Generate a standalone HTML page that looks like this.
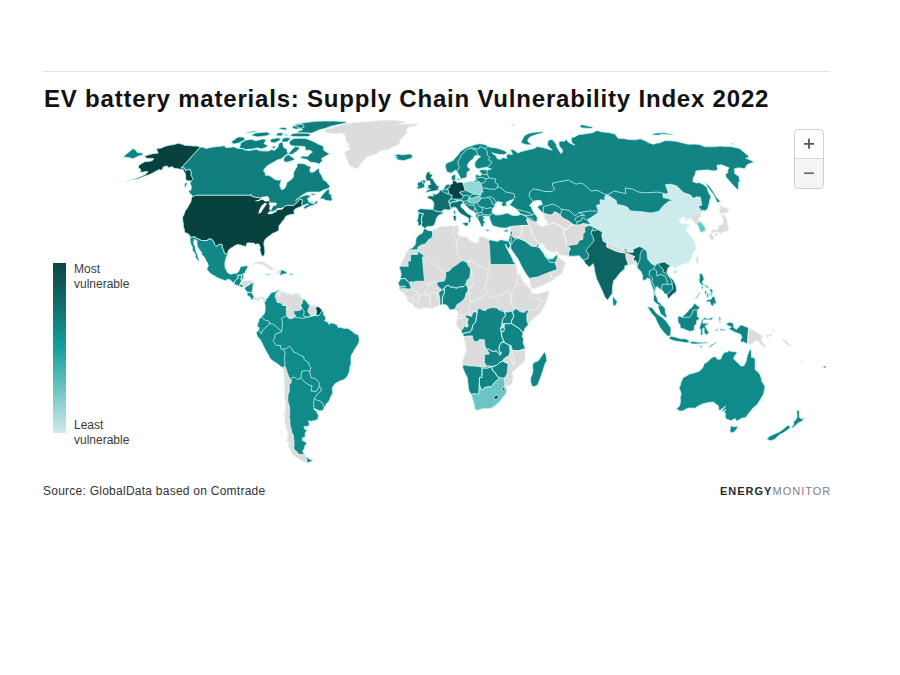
<!DOCTYPE html>
<html><head><meta charset="utf-8">
<style>
html,body{margin:0;padding:0;background:#fff;width:900px;height:675px;overflow:hidden}
body{position:relative;font-family:"Liberation Sans",sans-serif}
.rule{position:absolute;left:43px;top:71px;width:787px;height:1px;background:#e2e2e2}
.title{position:absolute;left:44px;top:85px;font-size:24px;font-weight:bold;color:#121212;letter-spacing:0.8px;white-space:nowrap}
.map{position:absolute;left:0;top:0}
.legbar{position:absolute;left:53px;top:263px;width:13px;height:170px;background:linear-gradient(#0a4542 0%,#117573 28%,#14a09f 50%,#6cc3c3 74%,#d0ebeb 100%)}
.leg{position:absolute;left:74px;font-size:12px;line-height:15px;color:#3a3a3a}
.src{position:absolute;left:43px;top:484px;font-size:12px;color:#333;letter-spacing:0.25px}
.logo{position:absolute;left:720px;top:485px;font-size:11px;font-weight:bold;color:#2a2a2a;letter-spacing:1.0px}
.logo span{color:#808080;font-weight:normal}
.zoom{position:absolute;left:794px;top:129px;width:30px;height:60px;border:1px solid #d0d0d0;border-radius:4px;background:#fff;box-sizing:border-box}
.zoom .sep{position:absolute;left:0;top:28px;width:100%;height:1px;background:#d8d8d8}
.zoom .bot{position:absolute;left:0;top:29px;width:100%;height:29px;background:#f5f5f5;border-radius:0 0 4px 4px}
</style></head><body>
<div class="rule"></div>
<div class="title">EV battery materials: Supply Chain Vulnerability Index 2022</div>
<svg class="map" width="900" height="675" viewBox="0 0 900 675">
<path fill="#138484" stroke="#c8fbfb" stroke-width="0.75" stroke-linejoin="round" d="M424.7 228.4L423.2 227.1L421.0 225.3L417.9 225.8L418.2 221.9L416.8 221.2L418.1 217.6L418.5 213.2L417.6 210.4L420.2 208.7L424.6 208.9L428.7 209.2L432.7 209.4L433.7 206.6L433.9 202.8L432.0 200.1L427.5 198.1L427.1 196.6L430.4 195.8L433.2 196.3L432.6 193.6L434.4 194.3L436.7 194.1L439.2 192.3L439.4 190.6L441.1 190.1L442.8 189.4L444.0 188.1L445.3 185.7L446.8 184.5L449.6 184.2L451.5 184.2L452.8 183.3L452.5 180.6L451.7 179.4L451.3 176.3L454.6 174.4L455.7 175.3L455.5 177.7L456.6 177.2L454.7 180.6L456.9 182.0L457.1 183.0L459.9 182.0L462.4 182.5L463.2 183.3L466.5 182.3L471.1 181.1L473.3 182.0L473.9 180.8L476.1 180.1L475.5 178.2L475.3 175.8L476.9 174.4L479.9 175.8L481.1 175.1L481.1 172.7L479.3 171.3L479.2 170.3L482.7 169.6L487.3 169.9L491.3 168.9L488.8 168.2L486.9 167.3L483.3 167.8L478.1 168.9L475.1 167.1L474.7 164.1L475.3 161.8L479.0 157.4L480.7 156.8L478.2 155.4L475.3 155.4L473.8 157.2L473.2 159.0L470.7 160.6L468.3 162.9L467.4 165.7L467.9 167.5L470.2 168.7L470.0 170.3L467.1 172.2L466.9 175.8L466.0 177.9L463.4 178.2L460.7 179.6L460.1 177.2L458.3 174.1L456.8 171.3L455.4 169.9L454.6 171.0L451.0 173.2L447.3 172.2L446.3 170.3L445.3 166.4L445.6 164.1L448.7 162.2L453.1 160.6L454.7 158.4L457.9 155.0L460.2 151.7L463.4 149.5L466.5 147.3L470.5 146.2L475.2 144.5L478.9 143.8L482.6 144.1L486.1 145.1L488.1 146.6L491.7 147.5L496.0 147.9L500.5 149.2L504.2 150.5L506.8 152.3L506.0 153.9L503.7 154.8L500.1 154.5L496.5 153.9L492.9 153.2L491.8 152.5L494.1 154.5L496.9 156.8L496.9 158.4L499.5 159.3L502.1 158.8L500.9 157.4L503.5 157.7L507.2 158.4L506.2 156.5L506.7 155.0L508.9 153.9L512.3 154.8L512.0 152.8L510.2 149.9L513.2 149.5L515.4 151.0L517.8 153.0L521.5 151.4L527.0 150.1L529.3 149.5L534.0 148.6L537.4 146.6L543.7 147.7L549.6 149.5L552.4 150.1L549.4 147.3L547.5 145.1L547.9 140.9L550.3 139.4L553.2 140.2L556.1 144.1L557.0 147.3L561.0 153.6L562.6 151.7L561.9 148.8L559.2 146.2L558.8 143.0L559.5 141.3L565.0 140.9L566.1 138.8L568.1 141.9L571.8 144.1L574.9 145.1L571.6 142.4L571.1 137.8L575.2 136.7L578.5 134.7L585.6 133.7L592.5 132.7L597.1 130.4L601.0 131.7L605.5 132.3L609.7 132.7L615.0 134.1L618.0 138.2L623.2 138.6L629.0 139.6L635.6 139.8L640.3 138.8L645.6 140.9L649.3 143.0L653.8 144.3L656.1 143.2L659.8 142.8L663.7 141.1L665.5 140.5L670.6 140.7L676.2 141.3L683.0 143.0L688.5 144.3L694.1 144.1L699.5 144.5L704.5 146.6L708.9 146.8L716.2 146.6L720.4 146.0L723.5 146.4L730.4 146.6L735.7 147.5L739.6 148.6L748.5 155.9L748.5 158.1L745.6 157.9L751.4 160.6L754.6 162.2L751.3 162.9L747.6 164.5L746.0 166.4L744.8 168.7L738.4 167.8L734.1 168.9L734.8 171.0L734.6 173.4L739.7 177.0L738.9 178.2L740.0 180.6L738.6 182.3L738.5 185.7L738.7 190.4L734.5 186.7L730.1 181.8L725.9 177.0L725.5 173.9L727.8 172.9L727.7 169.9L729.0 167.8L723.7 165.7L721.9 164.8L717.0 165.2L717.7 169.9L714.2 171.0L707.7 169.9L701.7 170.3L695.9 171.0L695.4 173.9L693.5 177.5L692.8 181.6L696.6 183.0L699.1 182.5L703.4 184.5L707.1 187.4L708.2 191.6L710.9 196.6L709.8 200.3L708.7 205.4L707.6 208.9L705.1 211.0L702.1 210.2L700.6 212.2L700.4 216.1L698.9 218.1L697.5 219.4L700.3 221.7L704.1 225.8L705.7 229.7L704.4 231.2L701.6 232.2L700.1 232.0L699.1 228.4L698.5 225.8L696.5 224.0L694.0 223.2L693.7 220.7L690.7 218.4L687.0 218.9L685.3 220.7L685.6 217.1L683.6 215.8L680.6 218.4L677.9 220.2L679.2 222.5L681.7 224.5L685.3 223.7L689.5 225.0L687.1 226.8L686.2 228.9L685.1 231.0L687.6 232.8L690.6 237.1L694.1 241.5L693.6 243.3L695.2 244.4L695.4 248.5L692.6 252.4L691.4 258.0L688.1 262.2L683.4 263.7L682.0 264.0L678.9 265.0L675.8 266.6L675.3 268.9L673.9 265.8L670.4 265.8L667.8 268.4L666.8 272.2L668.9 276.1L673.2 279.9L675.9 285.6L676.6 290.2L675.4 292.8L672.6 294.3L671.2 296.1L668.1 299.0L667.5 296.6L666.7 294.3L664.4 293.8L662.8 290.7L659.5 288.7L658.1 287.7L657.1 286.4L655.9 287.7L655.0 294.1L656.8 297.2L658.2 301.8L660.3 303.3L662.1 305.1L665.2 308.7L665.3 312.0L667.2 317.4L665.6 317.7L660.7 313.8L658.5 308.2L657.9 304.3L656.3 303.6L653.5 300.5L653.6 296.6L653.3 290.2L650.9 283.8L649.8 278.7L647.3 277.9L645.2 280.5L642.7 279.9L642.6 275.3L640.9 271.5L637.9 268.4L635.7 265.8L634.2 262.9L632.3 264.5L629.1 265.0L624.9 265.8L624.7 268.9L621.4 271.5L618.5 274.8L616.1 278.4L613.7 280.5L612.5 286.4L612.2 294.1L611.2 294.8L608.9 298.2L607.5 300.2L604.6 296.6L602.0 290.2L598.6 283.0L596.6 278.7L594.9 272.2L594.0 266.6L593.2 263.7L589.3 267.1L585.6 263.7L583.4 260.1L580.5 257.3L579.2 255.7L574.9 256.2L568.7 256.2L561.9 255.2L559.2 254.4L556.7 251.3L553.0 252.6L546.2 249.3L543.0 243.9L539.2 243.9L538.4 246.4L539.4 247.7L542.2 251.6L543.9 253.7L545.6 257.5L546.1 253.9L547.5 258.8L552.7 258.8L555.5 255.5L557.0 253.7L557.6 257.0L559.0 258.0L562.7 260.4L565.6 263.2L563.4 268.4L562.2 272.5L559.6 274.8L556.5 276.6L550.6 281.0L542.8 285.1L535.2 288.2L531.5 288.4L530.2 283.8L529.9 278.9L525.7 273.5L521.3 265.8L518.2 259.3L514.6 254.2L511.0 249.0L510.4 245.1L508.5 240.5L509.7 236.6L510.5 232.2L510.9 228.6L510.8 226.1L506.9 227.9L503.8 228.1L499.6 227.6L496.4 226.8L492.8 225.8L490.8 221.9L490.0 219.4L489.3 216.6L485.2 216.1L482.8 216.8L484.8 218.4L483.0 219.9L485.7 222.7L483.7 223.5L483.6 227.1L481.2 226.3L480.2 223.7L479.5 221.9L477.7 219.1L475.9 217.1L475.8 213.5L473.7 211.7L470.5 209.9L467.4 207.4L465.2 204.9L463.3 203.6L460.8 204.4L461.3 207.4L463.8 209.2L466.7 213.0L469.0 214.3L474.1 217.6L471.0 216.8L470.1 219.4L471.0 220.9L468.7 223.5L468.4 218.1L465.9 216.6L461.7 214.3L458.5 211.7L456.8 208.2L453.9 206.9L451.4 208.4L448.4 210.2L445.4 209.4L442.5 210.2L442.8 212.0L442.8 213.5L438.3 215.5L436.3 218.6L435.7 221.2L434.6 224.3L432.2 226.3L427.2 226.6L424.7 228.4Z"/>
<path fill="#ffffff" stroke="#c8fbfb" stroke-width="0.75" stroke-linejoin="round" d="M491.9 211.7L492.6 209.2L493.8 207.1L495.5 204.9L497.1 201.6L499.3 201.8L502.8 202.8L501.0 204.4L503.5 206.6L507.2 205.4L509.0 204.6L512.3 206.6L516.1 208.9L520.7 214.0L517.7 215.5L512.6 215.5L507.2 213.0L500.3 214.8L495.3 215.0L493.1 214.3L491.9 211.7ZM506.0 204.1L507.0 204.4L510.0 204.6L512.1 201.6L513.6 199.8L510.4 200.3L506.1 202.3L506.0 204.1ZM533.3 201.3L537.0 200.3L541.1 200.8L542.3 204.6L538.7 205.4L538.3 206.6L537.0 207.1L540.0 209.9L543.0 213.0L543.9 215.5L544.6 218.1L547.0 220.9L547.9 224.8L542.0 226.6L537.5 224.5L536.9 221.9L537.4 217.6L534.6 213.5L532.5 210.4L531.3 206.6L529.6 205.9L530.8 203.9L533.3 201.3Z"/>
<path fill="#dcdcdc" stroke="#f6f6f6" stroke-width="0.75" stroke-linejoin="round" d="M424.0 228.9L425.3 228.6L428.0 230.4L431.7 230.7L433.8 229.1L436.3 228.6L439.4 227.1L442.5 226.3L446.7 226.3L449.7 225.5L452.4 226.1L454.1 226.1L456.6 225.0L458.0 226.1L459.3 225.8L458.1 227.6L459.2 229.4L458.8 231.2L457.4 232.8L458.1 234.3L459.6 235.3L461.5 236.4L464.7 236.6L468.3 237.9L469.0 240.0L472.2 241.3L475.5 242.8L477.8 242.6L478.8 240.8L478.5 238.7L479.6 237.1L482.1 236.4L484.7 237.1L487.9 238.7L489.5 239.7L494.4 240.8L497.6 241.5L499.6 240.2L501.7 239.7L504.5 240.5L507.1 241.0L508.5 240.5L510.4 245.1L509.3 249.5L506.5 246.4L505.5 244.1L506.1 246.9L508.1 250.8L510.3 254.7L512.8 259.3L514.2 263.2L517.0 267.1L517.6 272.2L520.3 275.3L522.4 280.2L524.0 282.5L526.7 284.6L529.3 287.9L531.6 290.5L531.0 291.5L533.0 293.0L535.5 293.8L538.8 293.3L542.0 292.3L545.3 291.8L549.0 290.7L548.9 294.1L548.4 296.6L546.8 300.5L544.7 305.6L542.6 309.5L539.3 314.3L536.0 316.4L533.1 318.7L529.4 323.1L527.1 325.9L525.1 328.2L524.0 332.3L522.3 336.4L523.6 338.9L523.1 342.8L524.5 346.6L525.5 349.2L525.4 357.4L523.9 362.1L519.3 365.9L515.8 369.3L512.4 372.4L513.0 376.2L512.9 381.4L511.7 384.0L507.0 386.5L506.1 389.1L506.1 393.0L504.8 395.1L502.5 397.6L500.1 401.2L496.3 404.6L493.4 406.9L490.1 408.5L486.5 408.7L483.4 408.5L480.2 409.5L478.0 410.5L475.6 409.5L474.8 408.7L474.7 406.7L474.2 404.6L472.9 400.2L471.4 394.5L469.0 390.9L468.3 386.5L467.6 380.1L467.3 377.5L465.2 373.6L463.5 369.8L462.1 365.4L462.1 362.1L463.3 357.9L464.9 353.8L466.5 351.3L465.6 347.9L465.0 344.1L463.7 336.6L463.3 335.9L462.4 333.3L460.7 330.7L457.8 327.4L456.2 324.3L456.9 321.0L457.3 318.4L458.0 314.6L457.8 311.5L456.2 310.7L455.1 309.2L452.9 309.5L450.0 310.0L448.0 306.9L446.3 304.8L443.8 304.6L440.3 305.1L438.5 305.9L435.2 307.4L431.9 308.7L429.0 307.9L426.3 307.7L423.0 308.2L419.7 309.7L416.4 308.2L413.1 304.8L410.9 303.3L408.7 301.8L406.9 299.2L406.5 296.6L404.1 294.1L403.0 292.8L400.4 290.7L399.3 288.9L399.4 286.4L398.6 283.8L397.9 283.3L399.3 281.5L400.2 279.2L400.9 276.1L401.2 273.5L400.4 270.9L399.4 267.3L399.9 265.8L401.3 262.4L402.9 259.3L404.5 256.8L405.4 253.7L408.3 249.8L409.6 249.0L411.8 248.2L414.6 245.7L415.8 242.6L415.6 240.0L416.7 237.4L418.5 235.3L420.6 234.0L422.1 233.3L423.2 231.0L424.0 228.9Z"/>
<path fill="#118a8a" stroke="#c8fbfb" stroke-width="0.75" stroke-linejoin="round" d="M265.4 298.7L266.7 299.0L268.2 296.9L269.9 294.3L271.5 292.8L272.9 292.0L274.9 292.0L277.4 290.5L279.5 289.2L279.3 290.7L277.9 292.0L278.5 293.0L279.3 295.4L278.1 296.6L279.4 297.4L278.7 293.3L281.7 291.8L282.3 289.7L282.4 291.5L285.4 293.0L286.4 294.1L290.2 293.8L293.0 295.1L294.8 293.8L297.4 293.8L299.9 293.6L298.5 295.1L301.9 297.9L303.8 299.2L305.7 300.7L307.0 302.5L308.3 304.1L309.8 305.6L312.6 305.9L314.9 305.6L316.8 306.4L319.2 307.2L322.1 310.2L323.1 311.8L324.0 315.4L325.5 316.6L325.7 319.5L324.4 320.5L328.8 322.8L328.9 324.6L331.1 322.8L334.4 323.6L336.8 324.8L338.4 327.7L340.4 327.2L344.4 328.4L347.7 328.2L351.1 330.5L354.4 333.3L358.4 335.1L359.4 339.2L358.8 342.8L357.3 345.6L354.8 349.2L353.1 352.5L351.5 354.6L350.8 359.0L351.2 363.3L349.9 367.2L349.5 371.3L347.8 375.4L345.6 378.5L343.0 380.1L340.0 380.9L338.2 382.1L336.1 382.9L333.3 385.8L332.3 388.3L332.7 393.5L330.9 396.3L329.8 399.4L328.6 401.8L326.4 403.8L324.4 407.7L323.6 409.5L321.8 410.8L319.1 410.8L316.5 409.5L314.2 408.2L314.0 409.5L317.1 411.8L317.0 413.4L318.7 414.7L317.7 419.3L315.0 420.6L310.7 421.3L308.3 420.8L309.3 423.4L309.3 425.4L306.5 426.7L303.8 426.5L304.9 429.3L307.9 430.8L306.2 431.3L305.1 433.1L305.4 436.6L302.4 438.1L302.4 440.4L304.8 441.7L306.9 442.9L304.8 445.9L304.5 448.7L302.8 450.6L303.3 453.1L305.4 454.8L303.5 455.6L305.3 455.8L306.6 457.3L309.4 459.0L313.2 460.7L311.2 461.4L308.8 462.4L304.8 461.9L301.5 460.4L297.6 457.8L293.8 456.1L292.2 452.9L289.9 449.2L288.4 445.4L289.6 442.9L286.7 440.7L287.8 438.6L287.9 434.1L289.0 432.6L286.0 429.0L286.5 426.5L284.9 422.6L284.8 418.8L284.6 416.2L285.0 412.3L285.6 408.5L285.9 405.9L285.6 402.0L284.4 398.1L284.4 394.3L284.7 391.2L284.9 386.5L284.4 381.6L284.3 376.2L283.5 371.1L283.0 368.0L280.4 366.2L277.8 364.1L274.3 361.8L271.5 360.0L269.5 357.4L268.7 355.6L266.6 352.0L264.4 347.9L261.8 342.5L259.9 339.2L257.4 336.4L256.6 334.3L256.3 332.5L258.5 329.7L259.5 327.7L258.4 327.2L257.1 326.6L257.7 323.6L258.8 321.0L259.1 318.9L261.3 317.4L261.7 316.6L264.0 314.3L264.9 311.3L265.2 308.2L264.9 304.3L264.1 302.5L265.7 300.7L265.4 298.7Z"/>
<path fill="#117e7e" stroke="#c8fbfb" stroke-width="0.75" stroke-linejoin="round" d="M200.3 147.0L203.4 147.3L206.3 148.6L209.9 147.5L212.8 147.1L217.6 146.4L221.1 146.2L224.2 145.6L225.8 147.5L229.2 147.5L233.9 146.8L237.7 148.4L242.5 148.6L244.2 149.7L248.6 150.5L252.5 149.9L256.4 149.2L258.8 150.5L263.1 151.0L268.7 151.0L271.4 149.5L273.5 150.1L274.6 150.5L277.9 147.3L278.9 143.4L281.5 142.1L283.1 143.4L283.1 145.8L284.2 147.9L286.2 148.8L287.4 149.7L287.1 152.1L288.9 153.4L292.2 149.5L295.1 146.6L298.5 147.1L299.7 147.9L297.9 150.5L292.3 154.3L288.9 154.3L287.4 153.9L284.1 156.5L281.0 159.0L278.0 159.7L274.0 162.0L271.3 163.4L267.4 165.7L264.5 168.7L263.5 171.0L265.3 172.9L265.5 175.3L268.7 175.3L271.6 177.0L273.6 178.7L276.7 180.1L281.4 180.1L279.7 185.5L280.7 187.2L281.2 189.6L284.0 188.9L285.7 186.7L286.9 182.5L290.8 179.9L293.5 177.0L293.6 174.6L293.7 172.0L295.3 169.6L296.9 166.8L297.3 163.4L301.7 163.4L305.0 164.1L307.8 165.9L311.2 166.4L309.7 169.9L310.6 172.2L312.4 172.2L314.6 171.5L318.6 168.0L319.4 169.9L319.6 172.7L321.5 175.3L322.6 177.5L323.6 180.1L326.1 181.3L327.7 183.5L329.8 185.5L329.6 187.4L327.0 189.1L323.5 189.9L320.0 192.1L315.2 192.1L311.3 192.1L307.4 192.3L302.7 194.8L298.8 197.8L295.6 200.6L300.0 197.3L303.4 195.8L306.6 194.8L310.7 195.6L309.0 197.8L307.4 198.6L308.3 200.3L308.9 201.8L311.2 203.1L314.0 203.6L316.8 200.3L317.6 202.6L315.9 203.9L312.6 205.4L309.3 206.4L306.9 207.9L304.2 209.2L303.7 207.1L306.6 205.1L308.8 204.4L307.2 203.9L304.7 204.9L302.5 205.6L301.5 203.6L302.5 200.1L300.0 199.2L296.6 203.1L294.6 204.6L293.6 205.4L287.2 205.4L285.9 205.6L283.6 207.4L281.7 208.9L277.0 209.3L276.8 210.4L272.1 211.5L268.0 213.0L269.7 211.5L271.3 208.9L271.9 204.6L270.5 202.8L269.8 201.6L268.7 200.6L263.0 197.1L260.3 197.8L256.7 197.6L251.2 196.1L250.8 194.3L250.4 195.3L196.1 195.3L194.7 196.8L192.6 196.3L191.1 194.6L189.1 192.3L188.2 190.9L190.6 190.4L191.5 187.4L190.8 185.0L189.8 183.0L191.3 181.3L188.8 180.8L188.8 180.8L193.1 178.4L191.7 176.7L190.9 175.3L191.2 172.5L190.1 169.2L185.3 170.6L184.5 168.0L181.1 168.0ZM319.3 164.1L315.4 162.7L310.3 162.2L307.1 159.5L303.0 158.8L300.1 158.4L302.1 156.1L307.7 156.3L309.8 153.9L312.4 152.1L310.0 150.1L305.5 150.5L305.0 146.8L300.4 146.2L295.4 146.2L290.8 145.6L289.5 143.6L289.7 140.9L293.7 138.6L299.6 138.2L305.9 138.4L310.4 140.2L314.4 141.9L318.1 144.1L322.4 145.6L323.8 147.7L323.5 150.1L327.5 152.8L329.9 153.6L326.2 155.9L323.9 157.2L321.5 158.6L322.5 160.6L319.3 164.1ZM240.8 142.8L245.5 140.2L251.3 139.2L255.7 140.7L262.8 139.0L266.4 139.8L263.9 143.6L267.1 144.9L267.2 147.1L261.8 148.8L257.3 147.9L253.2 149.0L245.2 149.5L241.9 148.4L239.0 147.7L240.4 145.1L240.8 142.8ZM230.7 142.1L235.5 138.8L238.2 136.9L243.6 137.1L245.1 139.8L238.9 143.0L233.9 144.1L230.7 142.1ZM311.8 133.1L304.8 133.1L296.3 132.9L298.5 131.1L302.7 129.8L297.6 127.0L293.0 125.5L297.0 123.9L305.1 122.6L315.4 121.3L324.3 121.0L335.7 121.1L346.6 121.8L346.4 122.9L336.7 125.0L330.4 126.4L325.0 128.6L319.6 129.8L315.1 131.7L311.8 133.1ZM303.8 127.5L296.3 129.2L292.5 128.3L292.4 126.1L300.3 124.3L303.8 125.2L303.8 127.5ZM308.7 136.5L297.4 136.7L289.9 136.1L292.5 133.7L298.8 132.7L307.9 133.1L310.7 134.7L308.7 136.5ZM250.9 135.3L255.6 132.9L266.6 132.1L270.6 133.7L267.2 135.7L257.3 136.9L250.9 135.3ZM270.2 141.9L274.3 143.0L279.1 140.9L281.2 138.2L276.5 138.0L270.7 139.2L270.2 141.9ZM287.4 141.9L281.6 141.9L282.3 138.8L285.6 137.6L290.9 138.0L287.4 141.9ZM282.1 135.9L275.9 135.7L277.5 132.9L283.2 132.7L282.1 135.9ZM257.6 131.7L248.4 133.1L244.5 133.1L253.8 130.9L257.6 131.7ZM285.4 130.2L277.9 128.5L282.8 127.3L287.2 128.3L285.4 130.2ZM287.8 135.7L283.5 135.1L286.9 133.9L287.8 135.7ZM283.5 159.5L284.2 161.8L287.2 162.2L292.4 160.6L294.9 159.9L294.0 158.6L291.8 156.8L289.9 155.7L288.2 154.5L285.0 156.5L283.5 159.5ZM288.7 162.7L291.3 162.9L291.7 162.0L288.7 162.7ZM273.9 148.4L271.2 147.3L273.8 146.0L276.3 147.3L273.9 148.4ZM319.6 198.8L323.1 198.8L326.0 200.6L329.5 200.8L330.4 201.3L332.5 199.1L331.2 197.1L331.9 194.8L329.3 193.8L329.4 188.9L327.0 189.9L324.9 192.1L322.1 195.3L319.6 198.8ZM311.0 193.1L315.5 194.3L315.9 195.1L311.4 195.1L311.0 193.1ZM308.8 201.3L313.5 201.8L312.2 202.8L309.4 202.1L308.8 201.3ZM187.3 182.8L184.7 183.0L184.4 187.4L185.9 186.7L187.3 182.8Z"/>
<path fill="#08423f" stroke="#c8fbfb" stroke-width="0.75" stroke-linejoin="round" d="M192.0 196.8L196.1 195.3L250.4 195.3L250.8 194.3L251.2 196.1L256.7 197.6L260.3 197.8L263.0 197.1L268.7 200.6L269.8 201.6L270.5 202.8L271.9 204.6L271.3 208.9L269.7 211.5L268.0 213.0L272.1 211.5L276.8 210.4L277.0 209.3L281.7 208.9L283.6 207.4L285.9 205.6L287.2 205.4L293.6 205.4L294.6 204.6L296.6 203.1L300.0 199.2L302.5 200.1L301.5 203.6L302.5 205.6L300.2 206.9L296.8 208.2L295.2 208.9L293.6 211.2L294.5 213.2L294.3 214.0L291.1 214.5L288.9 215.0L285.9 216.3L285.3 217.3L284.3 219.4L282.5 220.9L281.7 222.5L280.1 224.5L279.0 225.8L278.9 227.9L279.0 230.2L276.6 231.7L273.8 233.0L271.9 233.8L270.1 235.6L267.1 237.4L265.3 239.2L264.0 242.0L263.9 244.9L264.6 247.7L264.9 251.9L264.4 254.7L263.5 256.2L262.0 256.2L261.1 254.2L260.4 252.1L259.8 249.5L260.4 247.5L259.8 246.2L258.9 244.1L257.5 243.9L255.2 244.6L254.1 243.1L250.9 243.1L249.0 242.8L246.8 243.3L246.4 245.1L246.6 246.2L244.7 246.2L242.5 245.7L240.3 244.9L237.2 244.6L234.8 245.7L232.7 247.2L230.3 248.5L228.7 250.0L227.8 252.1L227.8 254.3L225.7 253.9L224.0 252.9L223.7 250.3L222.5 248.2L221.9 244.6L220.5 244.4L218.8 244.4L217.0 246.4L215.5 245.7L214.5 244.6L214.0 242.3L211.7 239.2L208.1 239.2L207.7 240.5L201.6 240.5L194.8 237.4L195.1 236.9L189.9 237.4L190.0 235.8L188.5 234.0L187.4 233.5L184.3 232.2L184.5 229.9L183.5 227.1L183.2 225.3L183.6 223.7L183.0 222.7L182.7 219.4L182.5 217.1L183.6 215.5L184.5 213.0L185.1 211.0L187.4 207.9L189.5 204.1L190.6 202.3L191.2 200.3L191.5 198.1L192.0 196.8ZM200.3 147.0L197.2 146.0L193.3 146.0L189.3 145.6L184.5 145.3L182.4 144.3L178.4 143.3L173.9 144.5L170.2 145.1L165.2 146.2L161.0 148.1L156.3 148.6L157.1 150.3L157.4 152.1L158.4 153.0L153.4 153.6L150.3 154.3L144.7 155.9L145.6 157.7L147.5 158.4L151.0 158.4L153.3 158.6L153.2 159.9L150.8 161.1L147.7 161.5L144.6 161.8L141.5 163.6L138.5 165.7L138.5 167.1L138.5 168.0L140.3 168.9L140.8 170.3L139.5 172.0L142.7 172.2L146.1 171.5L148.1 171.8L145.2 174.6L141.3 176.3L136.5 178.2L132.9 179.1L128.6 180.8L125.1 182.0L128.6 180.6L133.4 179.6L137.8 178.9L142.0 177.2L146.0 175.8L150.0 174.4L153.3 172.7L155.8 171.3L159.5 169.4L160.0 170.3L162.4 169.6L163.2 167.1L166.6 165.9L167.8 166.6L168.0 168.0L171.2 166.8L172.8 167.1L174.3 168.5L177.7 168.7L180.8 169.4L182.8 169.2L183.8 171.3L185.1 172.9L185.7 175.3L185.6 178.2L186.2 180.6L188.8 180.8L191.3 181.3L193.1 178.4L191.7 176.7L190.9 175.3L191.2 172.5L190.1 169.2L185.3 170.6L184.5 168.0L181.1 168.0Z"/>
<path fill="#dcdcdc" stroke="#f6f6f6" stroke-width="0.75" stroke-linejoin="round" d="M357.3 169.2L354.1 167.5L349.9 166.4L348.2 162.9L347.0 159.5L345.8 156.8L344.2 153.9L346.1 151.0L350.1 149.5L350.0 147.3L345.4 146.2L350.2 144.5L346.7 143.0L345.9 140.9L345.6 137.8L344.7 134.7L340.7 133.3L332.6 133.7L326.9 132.7L324.3 130.7L324.6 129.2L331.6 127.9L338.1 126.1L344.9 123.9L354.9 122.3L364.0 121.8L373.1 121.0L382.2 120.2L393.7 120.0L401.9 121.0L405.7 122.6L399.4 123.9L411.2 123.9L418.6 123.8L415.3 126.1L409.2 127.0L406.3 129.8L407.4 132.7L404.6 135.3L402.6 137.8L399.8 140.2L400.1 143.0L398.1 145.1L393.7 146.6L388.1 149.7L381.9 150.5L376.0 154.3L370.4 155.9L366.6 157.2L364.6 159.5L361.6 162.9L359.2 166.4L357.3 169.2Z"/>
<path fill="#138484" stroke="#c8fbfb" stroke-width="0.75" stroke-linejoin="round" d="M393.8 156.1L396.6 154.5L398.4 154.1L401.8 154.8L405.2 154.5L408.8 153.9L411.3 154.3L412.8 156.8L410.9 158.4L409.1 159.0L403.3 160.8L399.3 159.9L396.3 159.9L397.8 158.4L394.4 157.4L397.2 156.5L393.8 156.1Z"/>
<path fill="#138888" stroke="#c8fbfb" stroke-width="0.75" stroke-linejoin="round" d="M189.9 237.4L195.1 236.9L194.8 237.4L201.6 240.5L207.7 240.5L208.1 239.2L211.7 239.2L214.0 242.3L214.5 244.6L215.5 245.7L217.0 246.4L218.8 244.4L220.5 244.4L221.9 244.6L222.5 248.2L223.7 250.3L224.0 252.9L225.7 253.9L227.8 254.3L226.4 256.8L225.7 259.3L224.8 263.2L225.0 265.8L225.2 268.1L226.4 270.2L227.0 271.7L228.2 273.0L230.2 274.3L232.4 273.8L235.3 273.3L236.8 273.3L238.9 271.2L239.9 268.4L240.4 266.8L243.3 266.0L246.0 265.8L248.1 266.0L247.3 268.4L246.0 270.2L245.2 272.5L244.4 273.5L243.8 273.5L241.7 275.1L237.7 275.3L237.5 276.7L238.7 277.6L236.2 279.7L234.2 282.0L234.0 283.7L231.5 281.0L229.5 279.4L227.9 279.4L224.9 280.7L221.8 279.4L217.9 277.9L214.6 276.1L211.6 274.3L209.1 272.0L207.3 270.2L206.9 268.6L208.3 265.8L207.7 263.2L206.5 261.4L204.8 258.0L203.5 256.2L201.6 254.4L201.9 252.4L199.9 250.8L199.2 249.3L197.5 246.7L196.9 243.6L197.1 240.8L195.6 240.0L194.2 239.2L193.8 241.8L193.9 244.4L195.3 246.9L195.5 249.5L196.4 252.6L197.4 254.7L198.1 257.5L198.9 258.8L198.9 261.7L198.1 261.4L196.8 258.6L195.1 257.5L195.5 254.7L194.0 252.1L192.3 250.3L192.7 248.8L192.1 246.4L190.8 244.1L190.2 241.8L190.1 239.5L189.9 237.4ZM234.0 283.7L234.2 282.0L236.2 279.7L238.7 277.6L237.5 276.7L237.7 275.3L241.7 275.1L241.0 280.2L242.2 280.7L243.1 280.5L240.8 282.3L240.3 284.1L238.6 285.9L236.0 285.3L234.0 283.7ZM241.7 275.1L243.8 273.5L243.7 276.1L243.1 278.9L241.6 280.2L241.0 280.2L241.7 275.1ZM238.6 285.9L240.3 284.1L242.1 284.6L243.5 285.3L243.3 287.1L241.1 287.1L238.6 285.9ZM244.1 287.9L245.6 286.9L247.9 285.3L249.7 284.6L251.2 283.0L253.9 282.5L253.0 285.1L252.6 288.9L251.9 292.8L250.6 292.5L247.7 292.3L245.9 290.5L244.1 287.9ZM247.7 292.3L250.6 292.5L251.9 292.8L253.3 295.4L254.1 296.4L253.2 299.7L251.7 299.5L249.4 296.4L247.3 295.6L247.0 293.0L247.7 292.3ZM265.6 273.8L269.8 274.5L268.7 275.3L266.1 274.8L265.6 273.8ZM279.8 274.8L280.4 275.8L282.5 274.3L285.8 273.8L287.4 273.3L286.1 271.7L284.2 270.7L282.3 269.9L280.3 270.4Z"/>
<path fill="#0e6363" stroke="#c8fbfb" stroke-width="0.75" stroke-linejoin="round" d="M289.8 273.5L293.2 273.8L292.9 274.8L289.7 274.8L289.8 273.5Z"/>
<path fill="#dcdcdc" stroke="#f6f6f6" stroke-width="0.75" stroke-linejoin="round" d="M240.8 282.3L243.1 280.5L245.8 280.5L249.1 280.2L251.7 280.5L253.9 282.5L251.2 283.0L249.7 284.6L247.9 285.3L245.6 286.9L244.1 287.9L243.3 287.1L243.5 285.3L242.1 284.6L240.3 284.1L240.8 282.3ZM254.1 296.4L256.4 298.2L259.8 297.2L262.0 296.6L265.4 298.7L265.7 300.7L264.1 302.5L263.1 300.0L260.8 298.2L258.7 300.0L258.6 302.3L256.3 300.5L253.2 299.7L254.1 296.4ZM252.4 264.8L254.0 262.9L257.0 261.9L260.3 261.4L263.4 261.9L266.4 263.7L269.0 265.5L271.4 266.8L275.0 269.1L271.9 269.9L267.5 269.9L268.6 268.1L266.6 267.1L264.0 265.5L260.9 264.2L257.8 263.7L254.4 264.8L252.4 264.8ZM274.1 273.8L277.1 274.3L279.8 274.8L280.3 270.4L278.0 269.9L276.6 270.7L278.0 272.0L277.8 273.3L274.1 273.3Z"/>
<path fill="#dcdcdc" stroke="#f6f6f6" stroke-width="0.75" stroke-linejoin="round" d="M279.3 290.7L277.9 292.0L278.5 293.0L279.3 295.4L278.1 296.6L279.4 297.4L278.7 293.3L281.7 291.8L282.3 289.7L282.4 291.5L285.4 293.0L286.4 294.1L290.2 293.8L293.0 295.1L294.8 293.8L297.4 293.8L299.9 293.6L298.5 295.1L301.9 297.9L303.8 299.2L302.2 301.5L302.5 303.3L301.0 304.3L300.9 305.9L302.2 308.4L300.2 310.0L297.3 310.7L294.8 310.7L293.5 311.3L294.1 314.6L295.9 315.4L294.5 317.2L291.4 318.7L288.1 317.9L287.2 315.4L286.1 313.8L286.8 311.5L286.2 309.5L287.0 305.4L282.8 305.4L281.3 303.1L277.2 302.3L276.4 299.5L275.6 297.7L275.3 296.1L275.6 294.3L276.8 292.5L279.3 290.7ZM309.8 305.6L312.6 305.9L314.9 305.6L316.8 306.4L315.7 308.4L316.7 311.8L315.8 315.4L312.5 315.9L311.1 316.1L308.1 312.0L307.9 310.2L309.8 305.6ZM283.0 368.0L284.5 365.9L285.5 367.2L286.4 369.8L287.1 372.4L288.4 375.7L289.3 377.8L291.0 379.6L291.2 382.7L289.1 384.2L289.3 389.1L289.1 392.0L288.0 394.3L287.8 398.1L287.9 402.0L289.3 405.9L289.6 409.8L289.8 413.6L289.2 416.2L290.0 420.1L289.8 422.6L290.1 425.9L291.1 429.0L291.9 432.8L293.4 435.4L293.4 437.9L293.9 440.4L293.9 442.9L294.1 445.4L293.6 447.9L295.0 450.4L296.8 451.6L298.2 454.1L301.3 454.6L303.2 454.6L305.1 455.1L305.6 456.5L307.2 461.2L304.8 461.9L301.5 460.4L297.6 457.8L293.8 456.1L292.2 452.9L289.9 449.2L288.4 445.4L289.6 442.9L286.7 440.7L287.8 438.6L287.9 434.1L289.0 432.6L286.0 429.0L286.5 426.5L284.9 422.6L284.8 418.8L284.6 416.2L285.0 412.3L285.6 408.5L285.9 405.9L285.6 402.0L284.4 398.1L284.4 394.3L284.7 391.2L284.9 386.5L284.4 381.6L284.3 376.2L283.5 371.1L283.0 368.0Z"/>
<path fill="#138484" stroke="#c8fbfb" stroke-width="0.75" stroke-linejoin="round" d="M303.8 299.2L305.7 300.7L307.0 302.5L308.3 304.1L309.8 305.6L307.9 310.2L308.1 312.0L311.1 316.1L307.8 317.2L304.0 316.4L303.6 314.6L304.3 311.8L303.0 309.5L302.2 308.4L300.9 305.9L301.0 304.3L302.5 303.3L302.2 301.5L303.8 299.2Z"/>
<path fill="#08423f" stroke="#c8fbfb" stroke-width="0.75" stroke-linejoin="round" d="M316.8 306.4L319.2 307.2L322.1 310.2L320.5 312.8L319.1 315.4L316.5 315.6L315.8 315.4L316.7 311.8L315.7 308.4L316.8 306.4Z"/>
<path fill="#dcdcdc" stroke="#f6f6f6" stroke-width="0.75" stroke-linejoin="round" d="M456.9 318.4L461.3 318.4L461.3 315.1L465.5 315.1L465.8 317.9L468.4 318.7L467.3 322.3L468.2 325.9L467.1 327.4L464.2 325.9L462.9 328.7L460.9 331.0L457.8 327.4L456.2 324.3L456.9 321.0L456.9 318.4ZM511.1 345.6L512.5 350.5L512.1 354.9L513.8 356.9L514.7 360.8L513.9 364.6L512.0 363.3L511.5 360.3L509.0 356.7L508.8 355.6L510.0 351.8L509.5 346.6L508.7 344.8L511.1 345.6ZM500.5 328.2L501.9 324.6L503.9 323.8L504.5 325.4L503.9 327.2L502.5 327.9L500.5 328.2Z"/>
<path fill="#138484" stroke="#c8fbfb" stroke-width="0.75" stroke-linejoin="round" d="M424.0 228.9L425.3 228.6L428.0 230.4L431.7 230.7L432.5 232.2L432.7 235.3L431.7 237.9L428.5 239.7L425.3 243.9L421.4 244.9L417.8 247.2L417.7 249.8L408.3 249.8L409.6 249.0L411.8 248.2L414.6 245.7L415.8 242.6L415.6 240.0L416.7 237.4L418.5 235.3L420.6 234.0L422.1 233.3L423.2 231.0L424.0 228.9ZM399.3 267.3L399.8 266.2L408.3 266.2L407.9 262.5L408.5 261.2L410.5 261.0L410.6 254.4L417.7 254.5L417.8 250.6L425.7 256.8L422.4 256.9L423.3 268.0L424.3 279.1L424.7 279.4L424.2 281.2L415.4 281.3L412.8 282.5L411.3 281.0L409.5 283.0L406.7 279.9L404.6 278.4L400.9 278.7L400.2 279.2L400.9 276.1L401.2 273.5L400.4 270.9L399.3 267.3ZM400.2 279.2L400.9 278.7L404.6 278.4L406.7 279.9L409.5 283.0L411.2 287.7L409.5 289.2L406.2 288.7L402.9 288.4L399.3 288.9L399.4 286.4L398.6 283.8L397.9 283.3L399.3 281.5L400.2 279.2ZM436.7 282.8L439.1 281.7L444.2 281.0L445.7 277.6L445.7 271.7L448.9 271.2L452.6 267.3L456.9 264.5L462.2 260.6L466.5 261.9L468.8 266.6L470.0 267.8L470.8 268.6L470.1 274.8L469.7 277.6L466.7 280.7L465.9 284.1L463.1 286.9L460.2 286.6L456.1 288.2L453.4 286.9L451.2 287.4L448.2 285.3L445.3 286.4L444.2 288.7L442.5 289.7L440.9 290.5L440.7 288.4L438.5 286.9L437.2 285.1L436.7 282.8ZM442.3 304.8L443.8 304.6L446.3 304.8L448.0 306.9L450.0 310.0L452.9 309.5L455.1 309.2L455.8 306.9L457.3 304.3L459.7 303.1L462.6 300.5L463.9 299.2L465.4 296.4L466.0 293.3L467.8 291.3L468.2 287.9L467.5 287.4L465.9 284.1L463.1 286.9L460.2 286.6L456.1 288.2L453.4 286.9L451.2 287.4L448.2 285.3L445.3 286.4L444.2 288.7L444.5 292.8L442.9 295.9L442.3 299.2L442.3 304.8ZM439.8 305.1L442.3 304.8L442.3 299.2L442.9 295.9L444.5 292.8L444.2 288.7L442.5 289.7L440.9 290.5L438.5 292.8L439.8 297.9L439.8 305.1ZM490.4 264.5L489.4 245.1L488.6 241.8L489.5 239.7L494.4 240.8L497.6 241.5L499.6 240.2L501.7 239.7L504.5 240.5L507.1 241.0L508.5 240.5L510.4 245.1L509.3 249.5L506.5 246.4L505.5 244.1L506.1 246.9L508.1 250.8L510.3 254.7L512.8 259.3L513.2 261.7L516.2 264.5L504.1 264.5L490.4 264.5ZM460.9 331.0L462.9 328.7L464.2 325.9L467.1 327.4L468.2 325.9L467.3 322.3L468.4 318.7L465.8 317.9L465.5 315.1L468.4 315.4L471.7 316.4L472.8 312.0L477.3 312.0L475.5 322.5L472.9 324.8L471.7 330.0L469.9 332.0L467.3 332.5L464.9 333.0L462.9 333.8L460.9 331.0ZM463.3 335.9L463.7 336.6L465.5 336.4L472.4 336.1L473.0 339.5L475.0 341.8L478.3 341.3L479.2 339.5L484.5 339.7L484.8 345.9L485.4 349.2L489.0 349.0L490.3 350.2L493.5 351.5L496.2 350.7L497.9 352.3L500.0 355.4L501.4 352.3L500.1 352.8L499.1 349.7L499.4 345.6L501.7 342.0L504.3 342.3L501.6 336.4L501.4 332.5L500.5 328.2L501.9 324.6L502.3 321.5L502.5 319.5L504.5 316.9L505.6 315.4L504.5 312.0L502.5 309.7L499.2 310.0L496.9 307.9L494.7 307.7L492.3 307.4L490.3 307.9L487.0 308.7L485.7 310.7L482.6 310.0L479.5 308.2L477.3 310.0L477.3 312.0L475.5 322.5L472.9 324.8L471.7 330.0L469.9 332.0L467.3 332.5L464.9 333.0L462.9 333.8L463.3 335.9ZM502.3 321.5L501.9 324.6L503.9 323.8L506.8 323.6L511.4 323.6L511.6 320.5L513.0 317.9L513.8 316.1L512.5 311.8L510.5 311.3L507.6 312.0L504.5 312.0L505.6 315.4L504.5 316.9L502.5 319.5L502.3 321.5ZM511.4 323.6L519.8 328.9L523.1 333.0L525.1 328.2L527.1 325.9L528.5 325.1L527.1 321.0L527.1 313.8L529.1 310.7L526.6 310.2L524.4 312.3L520.4 311.8L517.8 309.7L515.5 308.7L513.8 310.2L512.5 311.8L513.8 316.1L513.0 317.9L511.6 320.5L511.4 323.6ZM500.5 328.2L502.5 327.9L503.9 327.2L504.5 329.7L502.7 332.0L501.4 332.5L500.5 328.2ZM504.5 325.4L503.9 323.8L506.8 323.6L511.4 323.6L519.8 328.9L523.1 333.0L522.3 336.4L523.6 338.9L523.1 342.8L524.5 346.6L525.5 348.7L521.1 350.0L518.9 350.7L515.1 350.5L512.5 350.5L511.1 345.6L508.7 344.8L504.8 343.0L504.3 342.3L501.8 336.4L501.4 332.5L502.7 332.0L504.5 329.7L503.9 327.2L504.5 325.4ZM484.8 345.9L485.4 349.2L489.0 349.0L490.3 350.2L493.5 351.5L496.2 350.7L497.9 352.3L500.0 355.4L501.4 352.3L500.1 352.8L499.1 349.7L499.4 345.6L501.7 342.0L504.3 342.3L504.8 343.0L508.7 344.8L509.5 346.6L510.0 351.8L508.8 355.6L504.3 358.2L502.5 361.0L499.3 362.8L496.6 365.4L491.5 366.7L489.2 365.9L487.0 366.2L484.4 362.6L484.7 354.3L489.1 354.3L488.9 352.3L484.8 347.9ZM491.5 366.7L496.6 365.4L499.3 362.8L502.5 361.0L504.2 361.8L508.2 363.9L507.5 369.8L507.1 373.6L505.7 376.2L503.8 378.3L499.9 377.8L497.0 376.2L495.0 372.4L492.9 371.1L491.5 366.7ZM462.1 365.4L465.8 364.6L467.3 365.7L476.7 366.2L482.1 367.2L487.0 366.2L489.2 365.9L491.5 366.7L487.6 368.0L482.1 368.0L481.8 377.5L479.6 377.5L479.3 384.7L478.9 394.0L476.8 394.3L474.2 393.8L471.4 394.5L469.0 390.9L468.3 386.5L467.6 380.1L467.3 377.5L465.2 373.6L463.5 369.8L462.1 365.4ZM479.6 377.5L481.8 377.5L482.1 368.0L487.6 368.0L491.5 366.7L492.9 371.1L495.0 372.4L497.0 376.2L499.9 377.8L495.6 381.4L493.3 384.2L491.0 387.0L487.8 386.8L484.6 387.8L482.3 389.9L480.9 389.1L479.3 384.7L479.6 377.5ZM544.8 351.8L546.1 355.6L546.9 360.8L545.2 363.3L544.4 365.9L542.9 371.1L541.0 376.2L539.6 380.1L537.6 385.0L534.0 386.8L531.9 385.8L530.6 381.4L530.7 377.5L532.5 373.6L533.0 369.8L532.4 365.9L533.5 362.6L535.9 361.8L538.2 360.8L540.1 358.2L541.7 355.9L543.6 353.1L544.8 351.8ZM399.4 286.6L403.4 285.9L406.0 286.6L403.3 286.9L399.6 287.4L399.4 286.6Z"/>
<path fill="#6ac5c5" stroke="#c8fbfb" stroke-width="0.75" stroke-linejoin="round" d="M471.4 394.5L474.2 393.8L476.8 394.3L478.9 394.0L479.3 384.7L480.9 389.1L482.3 389.9L484.6 387.8L487.8 386.8L491.0 387.0L493.3 384.2L495.6 381.4L499.9 377.8L503.8 378.3L505.0 383.7L505.0 387.6L506.7 390.1L506.1 393.0L504.8 395.1L502.5 397.6L500.1 401.2L496.3 404.6L493.4 406.9L490.1 408.5L486.5 408.7L483.4 408.5L480.2 409.5L478.0 410.5L475.6 409.5L474.8 408.7L474.7 406.7L474.2 404.6L472.9 400.2L471.4 394.5Z"/>
<path fill="#0e6363" stroke="#c8fbfb" stroke-width="0.75" stroke-linejoin="round" d="M493.6 397.1L495.9 395.1L498.0 395.3L498.7 397.1L496.7 399.4L494.5 399.7L493.6 397.1ZM502.8 387.3L504.9 387.8L505.0 389.9L503.2 391.2L502.3 389.4L502.8 387.3Z"/>
<path fill="#138484" stroke="#c8fbfb" stroke-width="0.75" stroke-linejoin="round" d="M424.8 187.4L424.5 184.7L424.9 183.0L422.5 182.8L422.6 180.6L422.6 179.9L420.3 181.8L417.4 182.5L417.5 185.0L418.1 186.4L416.5 188.1L418.0 189.1L420.9 188.4L424.8 187.4ZM485.2 229.4L491.1 230.2L487.4 231.2L485.3 230.2L485.2 229.4ZM503.6 230.7L508.3 229.1L507.3 232.0L504.2 231.7L503.6 230.7ZM456.9 178.4L459.8 178.2L459.4 180.1L457.3 180.1L456.9 178.4ZM454.7 179.4L456.5 179.1L456.0 180.6L454.7 179.9L454.7 179.4ZM469.8 174.6L470.9 173.6L470.4 175.8L469.8 174.6ZM521.0 143.0L522.6 138.8L524.4 135.7L528.8 133.3L536.0 132.1L542.7 131.7L542.8 133.1L535.8 134.7L530.5 136.7L528.2 138.8L527.7 141.3L531.7 144.9L526.6 144.7L521.0 143.0ZM579.6 127.0L581.6 124.6L593.3 127.2L591.1 128.6L582.0 127.9L579.6 127.0ZM651.1 134.7L658.1 135.3L662.2 134.1L671.4 135.1L674.0 134.7L664.4 132.7L655.5 133.1L651.1 134.7ZM511.0 125.7L515.3 125.3L513.5 124.8L511.0 125.7ZM731.3 144.1L732.3 143.0L734.0 144.3L731.3 144.1ZM717.6 202.8L720.5 201.6L716.0 196.6L712.6 190.4L707.6 184.2L705.2 182.3L707.4 186.7L713.0 194.1L717.6 202.8ZM133.0 148.6L135.6 149.9L137.5 152.5L143.0 153.0L143.0 154.8L138.3 156.3L132.9 158.8L129.0 157.7L123.0 156.8Z"/>
<path fill="#116f6f" stroke="#c8fbfb" stroke-width="0.75" stroke-linejoin="round" d="M425.2 192.6L429.5 191.8L434.4 190.9L439.0 189.9L438.0 188.4L439.5 186.4L436.9 185.5L436.1 184.0L433.5 180.6L432.6 178.4L430.7 178.2L431.6 177.0L433.0 174.4L429.8 174.1L430.4 172.0L427.1 172.0L426.1 174.6L425.5 177.0L426.0 179.4L427.1 181.1L430.1 180.8L429.9 182.5L430.8 184.5L427.6 184.7L428.3 185.9L427.7 187.9L426.3 188.6L430.5 189.1L427.6 189.9L425.2 192.6ZM424.9 183.0L425.9 182.0L425.0 180.1L422.6 179.9L422.6 180.6L422.5 182.8L424.9 183.0ZM441.1 190.1L444.5 192.8L445.6 192.8L447.6 194.1L449.0 194.1L452.3 195.3L451.3 198.8L450.1 199.1L448.2 201.8L450.2 203.1L449.9 205.4L451.4 208.4L448.4 210.2L445.4 209.4L442.5 210.2L442.8 212.0L439.3 211.7L435.3 211.0L432.7 209.4L433.7 206.6L433.9 202.8L432.0 200.1L427.5 198.1L427.1 196.6L430.4 195.8L433.2 196.3L432.6 193.6L434.4 194.3L436.7 194.1L439.2 192.3L439.4 190.6L441.1 190.1ZM451.4 208.4L449.9 205.4L450.2 203.1L453.1 201.8L457.1 201.6L460.4 200.3L463.4 201.6L463.3 203.6L460.8 204.4L461.3 207.4L463.8 209.2L466.7 213.0L469.0 214.3L474.1 217.6L471.0 216.8L470.1 219.4L471.0 220.9L468.7 223.5L468.4 218.1L465.9 216.6L461.7 214.3L458.5 211.7L456.8 208.2L453.9 206.9L451.4 208.4ZM461.9 223.7L464.1 222.7L468.4 222.5L467.6 226.6L465.9 225.8L461.9 223.7ZM453.0 215.5L456.2 215.5L456.0 220.7L453.7 220.7L453.0 215.5ZM453.6 210.7L455.5 210.4L455.4 214.5L454.0 214.0L453.6 210.7Z"/>
<path fill="#127373" stroke="#c8fbfb" stroke-width="0.75" stroke-linejoin="round" d="M432.7 209.4L435.3 211.0L439.3 211.7L442.8 212.0L442.8 213.5L438.3 215.5L436.3 218.6L435.7 221.2L434.6 224.3L432.2 226.3L427.2 226.6L424.7 228.4L423.2 227.1L421.0 225.3L421.9 222.7L421.3 219.4L422.3 215.5L423.7 214.0L419.7 213.0L418.5 213.2L417.6 210.4L420.2 208.7L424.6 208.9L428.7 209.2L432.7 209.4ZM421.0 225.3L417.9 225.8L418.2 221.9L416.8 221.2L418.1 217.6L418.5 213.2L419.7 213.0L423.7 214.0L422.3 215.5L421.3 219.4L421.9 222.7L421.0 225.3Z"/>
<path fill="#08423f" stroke="#c8fbfb" stroke-width="0.75" stroke-linejoin="round" d="M450.0 184.7L449.7 187.4L447.8 188.1L448.3 190.9L448.7 192.1L449.0 194.1L452.3 195.3L451.3 198.8L455.2 199.1L457.0 199.1L461.9 199.1L463.3 195.8L460.6 194.1L459.7 192.1L464.9 190.6L465.2 190.1L464.2 186.7L463.2 183.3L462.4 182.5L459.9 182.0L457.1 183.0L456.9 182.0L454.7 180.6L452.5 180.8L452.8 183.3L451.5 184.2L450.0 184.7Z"/>
<path fill="#96d6d6" stroke="#c8fbfb" stroke-width="0.75" stroke-linejoin="round" d="M463.2 183.3L464.2 186.7L465.2 190.1L468.2 191.6L471.2 192.8L474.3 194.1L480.2 195.1L480.4 192.8L482.9 191.4L481.6 187.9L481.9 186.2L480.8 183.3L479.4 182.0L473.3 182.0L471.1 181.1L466.5 182.3L463.2 183.3Z"/>
<path fill="#75c8c8" stroke="#c8fbfb" stroke-width="0.75" stroke-linejoin="round" d="M468.1 200.6L468.8 198.6L470.7 198.3L473.2 198.1L476.4 196.6L479.6 196.8L481.3 198.1L478.9 201.6L476.6 202.6L473.6 203.1L470.4 202.8L468.1 200.6Z"/>
<path fill="#138484" stroke="#c8fbfb" stroke-width="0.75" stroke-linejoin="round" d="M489.3 216.6L490.4 214.8L493.0 213.0L495.3 215.0L500.3 214.8L507.2 213.0L512.6 215.5L517.7 215.5L520.6 214.3L524.8 215.3L528.0 218.9L526.5 219.6L528.9 225.3L524.0 225.5L520.1 225.8L515.0 226.3L512.1 226.3L511.1 228.6L510.8 226.1L506.9 227.9L503.8 228.1L499.6 227.6L496.4 226.8L492.8 225.8L490.8 221.9L490.0 219.4L489.3 216.6Z"/>
<path fill="#dcdcdc" stroke="#f6f6f6" stroke-width="0.75" stroke-linejoin="round" d="M510.9 228.6L511.2 231.0L512.6 232.2L511.6 235.3L513.8 237.9L518.4 237.9L522.0 232.5L521.9 226.8L524.0 225.5L520.1 225.8L515.0 226.3L512.1 226.3L511.1 228.6L510.9 228.6ZM521.9 226.8L524.0 225.5L528.9 225.3L530.9 228.9L532.9 236.1L537.4 241.3L539.2 243.9L537.5 243.9L536.3 246.4L531.3 245.9L525.1 241.0L518.4 238.2L518.4 237.9L522.0 232.5L521.9 226.8ZM526.5 219.6L528.0 218.9L531.8 220.9L535.0 221.9L536.9 221.9L537.5 224.5L542.0 226.6L547.9 224.8L553.7 222.7L560.5 225.8L563.9 229.4L563.8 234.8L566.1 240.0L565.5 244.4L570.2 248.5L568.4 252.6L568.7 256.2L561.9 255.2L559.2 254.4L556.7 251.3L553.0 252.6L546.2 249.3L543.0 243.9L539.2 243.9L537.4 241.3L532.9 236.1L530.9 228.9L528.9 225.3L526.5 219.6ZM565.5 244.4L566.1 240.0L563.8 234.8L563.9 229.4L568.3 228.6L570.4 225.5L573.7 224.8L576.5 225.3L580.9 224.5L583.7 223.5L591.1 224.8L584.6 227.1L584.9 232.2L582.9 234.0L582.9 239.2L578.9 240.5L577.4 244.1L569.1 245.4L565.5 244.4ZM543.4 213.0L549.1 214.8L552.1 214.8L554.5 211.7L557.8 213.0L560.3 215.0L563.0 218.1L568.8 220.9L573.7 224.8L570.4 225.5L568.3 228.6L563.9 229.4L560.5 225.8L553.7 222.7L547.9 224.8L547.0 220.9L544.9 219.4L544.2 216.1L543.4 213.0ZM529.9 278.9L530.8 278.1L537.9 276.9L549.6 272.2L552.4 278.4L550.6 281.0L542.8 285.1L535.2 288.2L531.5 288.4L530.2 283.8L529.9 278.9ZM549.6 272.2L557.2 269.6L555.2 262.7L557.0 258.8L557.6 257.0L559.0 258.0L562.7 260.4L565.6 263.2L563.4 268.4L562.2 272.5L559.6 274.8L556.5 276.6L552.4 278.4L549.6 272.2Z"/>
<path fill="#17908f" stroke="#c8fbfb" stroke-width="0.75" stroke-linejoin="round" d="M547.5 258.8L552.7 258.8L555.6 256.0L556.6 254.2L557.6 257.0L557.0 258.8L555.2 262.7L549.8 262.4L547.5 258.8Z"/>
<path fill="#cdebeb" stroke="#c8fbfb" stroke-width="0.75" stroke-linejoin="round" d="M700.5 197.3L696.9 196.8L693.7 198.3L689.9 194.8L683.8 192.8L676.7 185.9L670.9 184.2L665.5 184.7L668.3 192.8L665.7 194.1L663.1 193.3L663.0 197.6L668.4 198.6L673.1 201.1L668.8 201.3L663.1 205.9L660.9 208.7L658.5 211.5L651.0 213.0L641.4 211.7L630.6 211.0L627.2 207.1L622.9 205.4L617.2 204.6L616.1 200.6L612.1 197.8L607.6 194.8L606.6 194.8L604.7 196.6L605.1 200.3L600.0 199.8L600.5 204.1L596.4 205.4L598.8 212.5L595.7 214.3L592.3 216.8L587.9 219.4L587.2 219.9L591.1 224.8L590.5 225.8L593.5 227.1L598.3 229.7L602.4 232.2L601.8 236.1L603.1 241.3L606.9 243.1L609.1 243.3L616.2 246.9L624.3 249.3L627.1 248.5L632.7 249.5L639.5 246.4L643.8 248.5L647.0 251.6L647.5 258.8L651.7 264.0L655.2 265.5L657.0 263.5L664.2 261.9L670.4 265.8L673.9 265.8L675.3 268.9L675.8 266.6L678.9 265.0L682.0 264.0L683.4 263.7L688.1 262.2L691.4 258.0L692.6 252.4L695.4 248.5L695.2 244.4L693.6 243.3L694.1 241.5L690.6 237.1L687.6 232.8L685.1 231.0L686.2 228.9L687.1 226.8L689.5 225.0L685.3 223.7L681.7 224.5L679.2 222.5L677.9 220.2L680.6 218.4L683.6 215.8L685.6 217.1L685.3 220.7L687.0 218.9L690.7 218.4L692.7 215.5L696.0 214.0L698.5 212.0L700.3 212.0L701.0 210.4L698.2 205.9L701.7 205.4L700.5 197.3ZM672.8 271.7L675.5 269.6L677.8 270.7L676.2 273.8L673.3 273.5L672.8 271.7Z"/>
<path fill="#dcdcdc" stroke="#f6f6f6" stroke-width="0.75" stroke-linejoin="round" d="M695.8 261.9L696.4 256.2L698.4 256.8L698.4 264.8L695.8 261.9Z"/>
<path fill="#dcdcdc" stroke="#f6f6f6" stroke-width="0.75" stroke-linejoin="round" d="M690.7 218.4L693.7 220.7L694.0 223.2L696.5 224.0L697.6 223.5L698.8 222.5L700.3 221.7L697.5 219.4L698.9 218.1L700.4 216.1L700.6 212.2L698.5 212.0L696.0 214.0L692.7 215.5L690.7 218.4ZM710.3 233.5L710.9 232.0L712.1 229.7L716.2 229.4L718.1 229.1L719.1 225.0L722.3 224.3L723.5 221.2L721.8 216.8L721.4 214.8L723.7 214.5L727.2 219.4L727.5 224.5L729.2 229.1L727.9 231.0L726.2 232.0L722.4 232.0L721.4 234.6L719.0 232.8L716.2 232.0L713.4 233.0L710.3 233.5ZM720.5 214.3L718.7 209.7L720.4 208.4L718.7 204.4L722.3 206.4L726.2 207.9L729.8 209.7L726.9 213.0L722.2 213.5L720.5 214.3ZM708.5 234.8L710.6 233.8L713.7 236.6L713.4 240.5L711.3 240.5L709.4 237.4L708.5 234.8ZM714.6 236.1L714.7 233.5L717.8 233.0L718.0 235.6L714.6 236.1Z"/>
<path fill="#6ac5c5" stroke="#c8fbfb" stroke-width="0.75" stroke-linejoin="round" d="M696.5 224.0L698.5 225.8L699.1 228.4L700.1 232.0L701.6 232.2L704.4 231.2L705.7 229.7L704.1 225.8L700.3 221.7L698.8 222.5L697.6 223.5L696.5 224.0Z"/>
<path fill="#0e6363" stroke="#c8fbfb" stroke-width="0.75" stroke-linejoin="round" d="M583.4 260.1L588.1 258.3L588.6 254.2L585.9 250.3L590.3 245.1L593.8 241.3L593.3 237.4L591.2 233.5L591.7 231.0L598.3 229.7L602.4 232.2L601.8 236.1L603.1 241.3L606.9 243.1L606.8 246.9L614.7 250.6L619.3 252.1L625.0 252.9L626.1 250.8L627.9 252.1L633.2 252.1L632.7 249.5L639.5 246.4L643.8 248.5L641.6 251.1L640.1 254.2L640.0 259.3L638.1 263.2L637.0 264.5L635.5 260.6L633.6 261.9L633.3 258.0L634.8 256.8L628.9 254.2L625.9 253.1L626.2 258.0L628.6 264.5L624.9 265.8L624.7 268.9L621.4 271.5L618.5 274.8L616.1 278.4L613.7 280.5L612.5 286.4L612.2 294.1L611.2 294.8L608.9 298.2L607.5 300.2L604.6 296.6L602.0 290.2L598.6 283.0L596.6 278.7L594.9 272.2L594.0 266.6L593.2 263.7L589.3 267.1L585.6 263.7L583.4 260.1ZM657.4 263.5L664.2 261.9L670.4 265.8L667.8 268.4L666.8 272.2L668.9 276.1L673.2 279.9L675.9 285.6L676.6 290.2L675.4 292.8L672.6 294.3L671.2 296.1L668.1 299.0L667.5 296.6L666.7 294.3L668.8 293.0L670.2 291.5L672.8 288.9L672.2 283.8L671.8 281.2L670.4 278.7L667.1 274.3L662.8 271.7L663.5 269.6L662.2 268.4L659.0 265.3L657.4 263.5Z"/>
<path fill="#dcdcdc" stroke="#f6f6f6" stroke-width="0.75" stroke-linejoin="round" d="M606.8 246.9L606.9 243.1L609.1 243.3L616.2 246.9L624.3 249.3L625.0 252.9L619.3 252.1L614.7 250.6L606.8 246.9ZM626.1 250.8L627.1 248.5L632.7 249.5L633.2 252.1L627.9 252.1L626.1 250.8ZM628.6 264.5L626.2 258.0L625.9 253.1L628.9 254.2L634.8 256.8L633.3 258.0L633.6 261.9L635.5 260.6L637.0 264.5L636.7 267.8L634.2 262.9L632.3 264.5L629.1 265.0L628.6 264.5Z"/>
<path fill="#138484" stroke="#c8fbfb" stroke-width="0.75" stroke-linejoin="round" d="M613.0 305.1L612.6 300.5L613.0 295.9L615.2 299.2L617.3 301.8L615.9 305.1L614.4 305.9L613.0 305.1Z"/>
<path fill="#118a8a" stroke="#c8fbfb" stroke-width="0.75" stroke-linejoin="round" d="M679.0 388.3L680.4 385.2L680.8 382.7L683.2 377.5L684.6 377.0L689.7 373.9L693.8 373.1L699.6 371.1L703.0 367.2L704.3 363.3L706.8 362.6L709.2 360.0L712.2 357.4L715.2 356.4L717.4 359.2L720.5 359.2L722.4 355.1L724.5 352.3L728.1 351.8L728.3 350.2L731.2 351.5L735.4 351.8L737.3 352.5L735.2 355.1L733.5 358.5L736.3 361.5L739.1 364.1L741.1 366.2L743.9 365.7L746.0 361.5L747.4 355.6L748.6 351.8L750.4 348.4L751.3 351.5L751.5 357.4L753.7 357.4L755.1 359.5L755.3 364.4L755.0 369.5L758.1 372.1L760.3 374.9L761.3 378.3L761.9 381.6L764.9 386.0L764.8 388.1L763.7 393.8L760.0 400.2L757.2 404.6L753.2 408.0L750.6 411.0L747.7 414.7L745.9 417.5L741.6 418.3L736.6 421.3L735.1 418.5L731.1 420.8L727.8 419.5L725.9 418.8L725.2 416.2L725.4 412.9L723.7 412.6L725.9 409.2L723.4 411.3L721.3 411.8L725.7 405.9L724.1 407.4L719.9 410.5L718.8 409.8L718.4 405.9L714.9 403.3L713.3 402.0L708.4 402.5L702.0 404.1L696.3 407.2L695.3 408.2L689.7 408.0L687.3 408.5L682.4 411.0L679.5 411.0L676.7 409.2L677.3 407.4L679.1 406.7L680.5 402.3L680.2 398.1L681.2 394.0L680.4 391.2L679.0 388.3ZM731.1 425.7L734.1 426.7L738.2 426.2L736.4 429.5L734.2 432.1L731.4 433.1L729.8 430.8L730.5 427.0L731.1 425.7Z"/>
<path fill="#138484" stroke="#c8fbfb" stroke-width="0.75" stroke-linejoin="round" d="M647.1 306.6L652.1 307.7L655.1 311.5L657.8 314.6L661.2 316.6L666.1 321.0L667.8 323.6L670.6 327.4L671.0 329.2L670.6 335.9L667.5 336.1L662.8 331.3L660.0 327.4L657.2 322.3L655.0 317.2L651.1 312.8L647.1 306.6ZM668.9 338.4L670.8 336.1L675.8 337.2L680.6 338.7L685.5 338.7L689.3 340.7L688.7 343.0L681.5 342.0L674.9 341.0L671.7 340.0L668.9 338.4ZM690.3 342.0L692.6 341.5L699.1 342.3L703.5 342.3L708.0 342.0L707.9 343.0L701.2 343.8L694.6 344.1L690.2 343.6L690.3 342.0ZM698.9 345.4L702.7 346.4L701.5 347.4L698.8 346.1L698.9 345.4ZM708.6 347.4L711.0 344.8L715.7 342.5L717.4 342.5L713.3 344.8L709.7 347.4L708.6 347.4ZM677.8 317.2L679.1 315.9L682.2 316.9L686.6 312.8L689.7 309.0L691.9 307.4L694.5 303.3L697.3 305.6L700.1 307.4L697.5 310.0L697.3 316.4L700.0 318.7L696.6 320.7L696.6 323.6L694.4 326.1L694.3 330.2L689.8 331.5L683.2 328.7L680.4 328.4L680.0 324.8L678.0 322.3L677.8 317.2ZM700.5 335.1L700.9 330.0L699.4 327.9L701.7 320.5L702.6 318.9L704.4 317.7L708.8 318.7L713.4 316.9L711.7 320.0L706.6 319.7L703.3 319.7L702.6 323.1L705.5 323.3L709.5 323.3L706.6 325.1L705.0 325.9L707.3 330.0L709.0 332.8L706.2 335.1L704.1 332.5L704.1 327.9L702.7 328.4L702.7 335.1L700.5 335.1ZM718.8 316.4L721.0 318.4L719.9 321.0L721.0 323.1L719.5 322.3L718.8 316.4ZM719.8 328.7L726.0 329.5L724.1 330.7L720.2 330.0L719.8 328.7ZM715.3 329.2L718.0 329.5L717.5 331.0L715.3 330.5L715.3 329.2ZM726.5 323.6L729.9 322.0L733.2 323.3L733.8 327.4L736.4 329.5L740.9 324.8L748.6 327.7L747.5 344.3L743.3 341.8L741.1 342.5L740.6 339.7L742.1 337.7L740.6 334.3L735.1 332.3L731.9 330.7L728.7 328.4L731.4 326.9L728.7 326.1L726.5 324.8L726.5 323.6ZM699.2 273.5L702.2 274.0L703.3 276.6L704.1 279.2L702.7 281.0L702.6 283.5L704.1 284.8L706.4 285.6L708.6 287.1L709.2 288.7L707.3 287.7L705.6 286.4L703.7 285.3L701.8 285.3L700.9 283.8L699.7 283.0L698.7 279.2L699.7 278.9L699.2 273.5ZM706.0 303.1L706.9 300.5L707.9 299.2L710.6 299.7L711.8 297.9L713.1 295.9L714.8 297.4L716.1 302.3L715.4 304.8L713.8 303.3L713.7 306.6L711.0 305.1L709.9 301.8L707.7 301.8L706.0 303.1ZM704.6 290.5L706.9 291.5L706.3 294.1L705.0 294.1L704.6 290.5ZM707.1 293.0L708.5 293.8L708.2 297.7L706.6 296.4L707.1 293.0ZM709.2 292.3L709.7 294.3L708.6 296.6L708.8 294.1L709.2 292.3ZM709.3 295.1L710.8 295.1L710.5 296.4L709.4 296.1L709.3 295.1ZM710.3 291.8L711.6 292.3L712.4 295.1L711.5 295.4L710.2 293.0L710.3 291.8ZM709.7 288.9L711.9 288.9L713.2 292.3L711.7 292.8L710.0 291.3L709.7 288.9ZM695.1 299.5L697.4 297.2L699.7 293.8L699.9 292.0L699.0 293.3L696.7 296.6L695.1 299.5ZM700.6 286.4L703.3 287.1L702.5 289.7L700.6 286.4ZM797.3 409.5L799.4 411.8L799.3 416.2L799.7 417.7L802.0 418.8L804.7 418.0L801.2 421.8L798.6 422.6L793.9 427.2L791.8 428.0L791.3 427.2L793.8 424.9L793.8 422.9L792.8 421.8L795.0 420.8L797.1 417.2L796.8 411.6L797.3 409.5ZM788.7 425.2L790.3 427.2L788.2 429.5L783.8 432.6L779.0 435.1L775.2 438.9L771.4 440.7L766.9 439.7L768.8 436.6L773.7 434.3L780.0 431.6L784.0 428.5L786.6 426.2L788.7 425.2ZM823.5 365.9L826.3 366.2L825.2 368.0L823.3 367.7L823.5 365.9Z"/>
<path fill="#dcdcdc" stroke="#f6f6f6" stroke-width="0.75" stroke-linejoin="round" d="M748.6 327.7L754.1 330.0L759.0 333.6L762.5 336.6L761.4 340.2L764.1 344.1L767.0 347.4L762.7 346.9L759.0 341.8L754.5 340.7L752.8 344.1L747.5 344.3L748.6 327.7ZM764.9 335.1L769.3 335.1L772.8 332.0L771.5 335.9L766.9 337.2L764.9 335.1ZM770.3 327.9L774.0 330.0L775.0 333.0L772.9 330.7L770.3 327.9ZM782.3 338.4L786.5 341.0L789.5 344.1L792.5 346.1L790.3 346.6L786.2 344.1L782.2 339.5L782.3 338.4ZM801.6 359.5L802.6 361.0L802.7 363.3L801.5 362.1L801.6 359.5Z"/>
<path fill="none" stroke="#c8fbfb" stroke-width="0.75" stroke-linejoin="round" d="M261.7 317.4L264.8 320.0L269.0 321.3L269.7 323.3L268.8 325.1L265.7 327.4L262.7 330.0L261.5 333.8L258.3 330.0M269.7 323.3L273.5 324.3L276.8 327.2L280.6 330.7L281.6 331.8M281.6 331.8L282.5 323.8L281.7 318.2L287.2 315.4M286.2 309.5L287.0 305.4L282.8 305.4M281.6 331.8L275.0 334.3L274.5 338.9L273.0 340.5L276.3 345.4L280.7 345.4L281.0 349.2L283.4 349.2M283.4 349.2L285.2 353.3L284.2 360.3L285.1 362.6L284.5 365.9M283.4 349.2L286.4 348.4L289.6 346.1L292.4 349.0L293.2 351.8L296.6 353.1L300.5 355.6L303.4 356.4L304.3 359.7L308.7 362.8L309.4 365.9L310.9 367.7L309.7 371.8M309.7 371.8L307.6 370.5L301.8 371.3L301.1 375.2L300.8 378.0L297.3 379.6L295.6 377.8L292.7 377.0L291.0 379.6M300.8 378.0L304.7 382.1L309.0 385.0L312.1 385.8L311.0 390.9L316.0 391.7L319.1 386.8L319.2 382.7L316.1 379.1L312.9 378.0L311.0 377.8L309.7 371.8M319.1 386.8L321.1 388.1L321.2 390.7L317.4 394.0L314.2 398.7M314.2 398.7L317.9 400.5L319.6 400.7L322.9 403.3L324.4 407.7M314.2 398.7L313.6 403.3L314.0 408.2M294.5 317.2L303.4 318.4L307.8 317.2L311.1 316.1L315.8 315.4L319.1 315.4M441.1 190.1L442.8 189.6L444.8 189.4L447.5 189.9L447.8 188.1M447.6 194.1L448.3 192.6L448.7 192.1M451.3 198.8L448.2 201.8L450.2 203.1L453.1 201.8L457.1 201.6L455.2 199.1M457.0 199.1L457.0 200.6L460.4 200.3L463.4 201.6L468.1 200.6L469.4 196.3L465.6 195.3L463.3 195.8M459.7 192.1L462.7 195.6M469.4 196.3L472.9 194.1L474.3 194.1M469.4 196.3L470.7 198.3M480.2 195.1L479.6 196.8M463.3 203.6L463.4 201.6M463.4 204.1L467.1 203.4L469.0 201.6L470.4 202.8M467.6 204.9L469.2 204.9L474.2 205.4L475.2 207.9L473.7 211.7M473.6 203.1L474.2 205.4M476.6 202.6L479.3 206.6L481.8 207.1L482.7 210.4L481.6 212.2L478.0 213.2L475.8 213.5M475.2 207.9L477.3 211.0L475.8 213.5M478.0 213.2L478.0 215.8L477.7 219.1M478.0 215.8L482.6 214.8L489.3 214.8L490.4 214.8M481.6 212.2L482.6 214.8M481.8 207.1L486.5 208.7L490.4 207.7L493.6 208.7M481.3 198.1L484.4 198.1L488.5 197.3L492.1 201.6L492.4 204.1L495.5 204.9M488.5 197.3L490.4 196.6L494.0 198.8L495.9 201.8L495.5 204.9M479.6 196.8L480.2 195.1M480.2 195.1L482.9 191.4M481.6 187.9L485.2 188.1L489.2 188.9L495.0 189.4L497.2 187.7M497.2 187.7L499.5 187.2L502.6 188.9L505.1 191.8L510.1 192.8L514.1 193.8L514.9 197.8L511.9 200.1M497.2 187.7L498.1 184.7L494.9 182.5L495.6 178.9L492.4 178.4L488.9 177.9M480.8 183.3L484.5 182.5L486.1 178.9L488.9 177.9M479.4 182.0L476.1 180.1M475.5 178.2L480.1 177.5L482.9 177.7L486.1 178.9M488.9 177.9L487.8 175.1L486.9 173.4L487.3 169.9M481.3 173.6L483.4 174.6L486.2 174.4L487.8 175.1M486.9 167.3L489.3 165.7L492.2 162.0L488.8 160.2L489.5 157.2L487.2 154.8L487.4 151.2L484.7 148.6L488.1 146.6M478.2 155.4L476.8 152.1L476.2 150.5L470.9 148.1L466.7 149.5L464.5 151.7L461.4 155.0L459.9 158.4L457.9 161.8L458.4 165.2L459.4 167.5L457.8 169.9L456.8 171.3M470.9 148.1L472.4 147.9L478.5 149.2L480.5 146.4L484.7 148.6M520.6 214.3L524.8 215.3L530.9 215.3L532.8 214.8L534.6 213.5M516.8 209.4L524.1 211.2L530.5 213.2L532.8 214.8M524.8 215.3L528.3 218.1L531.8 220.9M528.3 218.1L531.3 218.1L535.0 221.9M511.6 235.3L510.0 235.8M511.2 236.9L511.2 240.0L510.6 245.1M514.4 240.0L518.4 238.2M510.4 245.1L512.7 242.6L514.4 240.0M518.4 238.2L525.1 241.0L531.3 245.9L535.2 246.2L539.4 247.7M546.1 253.9L546.1 257.8L547.5 258.8M533.4 201.8L529.3 196.6L529.5 192.8L533.4 188.9L541.5 190.4L543.7 191.4L551.5 191.6L554.6 189.1L552.5 185.5L552.7 183.0L559.8 181.6L568.7 180.1L575.9 184.2L581.1 183.0L583.5 184.2L590.9 190.9L597.4 190.4L604.7 194.1L606.6 194.8M543.4 213.0L543.3 206.6L548.1 205.4L552.8 204.1L558.4 206.6L561.0 209.2L569.3 210.4L574.7 215.5L576.5 214.8L578.9 212.2L580.0 212.5L584.8 211.7L588.6 211.0L595.7 211.0L598.8 212.5M560.3 215.0L562.0 209.2M573.7 224.8L576.5 225.3L577.2 221.9L581.0 220.7L582.3 217.6L587.2 219.9M580.9 224.5L583.7 223.5M577.2 221.9L574.6 219.4L577.0 216.8L580.8 215.5L584.9 215.8L578.9 212.2M607.6 194.8L614.2 191.1L625.9 193.6L625.2 187.9L632.5 189.1L638.8 192.1L646.0 192.8L657.2 192.1L661.5 192.8L663.1 193.3M568.7 256.2L568.4 252.6L570.2 248.5L565.5 244.4M591.7 231.0L593.5 227.1M636.7 267.8L638.1 263.2M653.8 295.4L655.0 294.8L654.2 290.2L654.2 286.4L651.7 281.7L652.7 278.7L649.1 274.8L649.6 270.9L653.6 268.6L655.5 265.8M653.6 268.6L656.5 270.9L656.9 276.1L661.0 274.3L665.0 276.1L666.8 279.9L667.6 282.5L666.7 284.3L662.3 284.3L661.4 289.7M666.7 284.3L667.9 285.1L668.9 284.3L672.2 283.8M657.9 304.3L659.7 305.4L662.1 305.1M679.1 315.9L683.3 317.7L686.6 317.2L690.0 317.2L692.1 313.3L693.1 310.0L697.5 310.0"/>
<path fill="none" stroke="#f6f6f6" stroke-width="0.75" stroke-linejoin="round" d="M454.1 226.1L453.6 232.0L452.0 233.8L455.3 238.4L456.4 243.3L457.8 256.0L462.2 260.6M457.4 232.8L460.5 236.1L458.0 240.0L456.4 243.3M490.4 264.5L488.5 269.6L488.5 270.9L470.6 260.9L466.5 261.9M488.5 270.9L486.7 280.7L485.5 285.1L484.7 288.7L486.7 292.0L484.8 295.4L482.6 296.9L478.2 297.9L477.2 300.5L472.8 301.0L470.6 301.8M470.8 268.6L473.6 285.1L468.2 287.9M417.7 250.8L426.0 256.8L438.9 267.8L443.3 272.2L445.7 271.7M424.7 281.0L426.9 285.1L431.9 282.5L436.7 282.8M411.2 287.7L413.2 290.5L418.0 292.0L418.7 294.6L419.7 299.5L417.5 301.5L419.7 309.7M409.5 289.2L406.6 289.7L405.5 292.0L403.0 292.8M407.0 296.6L409.8 297.9L412.7 299.7L413.1 304.8M417.5 301.5L412.7 299.7L413.1 296.6L418.0 292.0M430.3 308.2L430.1 296.6L424.2 294.3L418.7 294.6M430.1 296.6L430.1 292.8L436.3 292.8L437.4 295.4L439.8 305.1M431.9 282.5L426.8 288.4L424.4 294.3M436.3 292.8L438.5 292.8L440.9 290.5M468.2 287.9L469.4 295.4L470.6 301.8L468.4 310.7L471.7 316.4M456.9 318.4L461.3 318.4L461.3 315.1L458.0 314.6M472.8 312.0L477.3 310.0M486.7 292.0L490.4 297.9L495.9 296.4L502.5 295.4L507.8 289.7L509.5 294.8L511.8 299.0L511.0 303.6L515.5 308.7M496.9 307.9L500.5 310.7L504.5 312.0M516.2 264.5L518.1 274.8L516.4 284.3L520.8 284.1L524.1 285.1L529.3 287.9M516.4 284.3L511.7 293.0L511.8 299.0M531.0 291.5L529.9 292.8L532.3 297.2L533.4 297.9L542.3 300.5L538.1 308.2L532.6 310.0L529.3 310.7L529.1 310.7M527.1 321.0L527.1 313.8M463.7 336.6L465.5 336.4L472.4 336.1M462.1 365.4L465.8 364.6M508.2 363.9L504.2 361.8L502.5 361.0M525.5 348.7L521.1 350.0L518.9 350.7L515.1 350.5L512.5 350.5M505.0 383.7L505.0 387.6"/>
<path fill="#fff" d="M254.1 201.1L258.8 199.8L262.8 197.1L267.1 196.1L269.5 198.1L268.9 201.3L265.0 201.6L262.4 199.6L258.2 201.3L254.1 201.1ZM258.2 213.8L261.0 212.7L262.9 209.4L265.3 205.9L267.4 203.4L264.5 203.1L261.3 205.9L259.3 209.9L258.2 213.8ZM270.2 210.4L272.6 207.4L274.0 205.4L275.8 206.1L277.0 203.1L273.6 202.6L268.7 202.8L269.0 204.4L269.9 205.9L269.1 208.2L270.2 210.4ZM267.1 213.8L268.4 214.3L271.9 214.0L276.5 211.7L277.2 210.7L273.7 211.5L269.3 212.7L267.1 213.8ZM275.7 209.7L277.2 209.9L282.9 209.2L283.6 207.4L280.8 207.9L276.7 208.4L275.7 209.7Z"/>
</svg>
<div class="legbar"></div>
<div class="leg" style="top:262px">Most<br>vulnerable</div>
<div class="leg" style="top:418px">Least<br>vulnerable</div>
<div class="src">Source: GlobalData based on Comtrade</div>
<div class="logo">ENERGY<span>MONITOR</span></div>
<div class="zoom"><div class="bot"></div><div class="sep"></div>
<svg width="28" height="59" style="position:absolute;left:0;top:0"><path d="M9 13.8H19M14 8.8V18.8" stroke="#555" stroke-width="1.8"/><path d="M9 43.2H19" stroke="#707070" stroke-width="1.8"/></svg>
</div>
</body></html>
